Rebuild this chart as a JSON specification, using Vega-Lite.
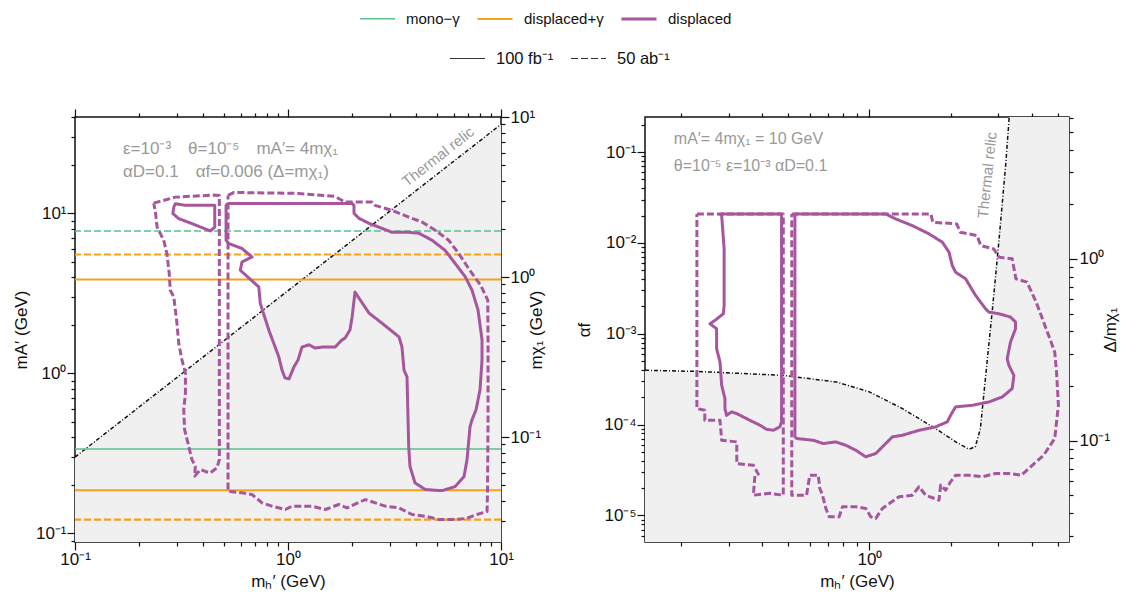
{
"$schema": "https://vega.github.io/schema/vega-lite/v6.json",
"background": "white",
"padding": {"left": 11, "top": 0, "right": 0, "bottom": 0},
"bounds": "flush",
"spacing": 144,
"config": {
 "view": {"stroke": "#111111", "strokeWidth": 1.5},
 "axis": {"labelFont": "Liberation Sans", "labelFontSize": 17, "labelColor": "#111111", "titleFont": "Liberation Sans", "titleFontSize": 17, "titleFontWeight": "normal", "titleColor": "#111111", "domain": false, "grid": false, "ticks": true, "tickColor": "#111111", "tickWidth": 1.2, "labelOverlap": false, "labelFlush": false, "zindex": 1},
 "legend": {"labelFont": "Liberation Sans", "labelFontSize": 15, "labelColor": "#111111", "padding": 0},
 "line": {"strokeJoin": "round"}
},
"datasets": {
 "hlines": [
  {"type": "mono−γ", "lum": "50 ab⁻¹", "y": 7.76},
  {"type": "displaced+γ", "lum": "50 ab⁻¹", "y": 5.53},
  {"type": "displaced+γ", "lum": "100 fb⁻¹", "y": 3.86},
  {"type": "mono−γ", "lum": "100 fb⁻¹", "y": 0.337},
  {"type": "displaced+γ", "lum": "100 fb⁻¹", "y": 0.186},
  {"type": "displaced+γ", "lum": "50 ab⁻¹", "y": 0.122}
 ],
 "relicL": [{"x": 0.1, "y": 0.30}, {"x": 10, "y": 36}],
 "contL": [
  {"c":"D1","lum":"50 ab⁻¹","type":"displaced","i":1,"x":0.234,"y":11.59},
  {"c":"D1","lum":"50 ab⁻¹","type":"displaced","i":2,"x":0.296,"y":12.63},
  {"c":"D1","lum":"50 ab⁻¹","type":"displaced","i":3,"x":0.448,"y":13.0},
  {"c":"D1","lum":"50 ab⁻¹","type":"displaced","i":4,"x":0.476,"y":12.94},
  {"c":"D1","lum":"50 ab⁻¹","type":"displaced","i":5,"x":0.476,"y":0.289},
  {"c":"D1","lum":"50 ab⁻¹","type":"displaced","i":6,"x":0.464,"y":0.257},
  {"c":"D1","lum":"50 ab⁻¹","type":"displaced","i":7,"x":0.432,"y":0.239},
  {"c":"D1","lum":"50 ab⁻¹","type":"displaced","i":8,"x":0.409,"y":0.244},
  {"c":"D1","lum":"50 ab⁻¹","type":"displaced","i":9,"x":0.388,"y":0.251},
  {"c":"D1","lum":"50 ab⁻¹","type":"displaced","i":10,"x":0.365,"y":0.228},
  {"c":"D1","lum":"50 ab⁻¹","type":"displaced","i":11,"x":0.367,"y":0.263},
  {"c":"D1","lum":"50 ab⁻¹","type":"displaced","i":12,"x":0.354,"y":0.289},
  {"c":"D1","lum":"50 ab⁻¹","type":"displaced","i":13,"x":0.342,"y":0.35},
  {"c":"D1","lum":"50 ab⁻¹","type":"displaced","i":14,"x":0.327,"y":0.445},
  {"c":"D1","lum":"50 ab⁻¹","type":"displaced","i":15,"x":0.324,"y":0.592},
  {"c":"D1","lum":"50 ab⁻¹","type":"displaced","i":16,"x":0.33,"y":0.753},
  {"c":"D1","lum":"50 ab⁻¹","type":"displaced","i":17,"x":0.33,"y":1.0},
  {"c":"D1","lum":"50 ab⁻¹","type":"displaced","i":18,"x":0.318,"y":1.21},
  {"c":"D1","lum":"50 ab⁻¹","type":"displaced","i":19,"x":0.307,"y":1.54},
  {"c":"D1","lum":"50 ab⁻¹","type":"displaced","i":20,"x":0.301,"y":2.06},
  {"c":"D1","lum":"50 ab⁻¹","type":"displaced","i":21,"x":0.291,"y":3.01},
  {"c":"D1","lum":"50 ab⁻¹","type":"displaced","i":22,"x":0.28,"y":3.31},
  {"c":"D1","lum":"50 ab⁻¹","type":"displaced","i":23,"x":0.277,"y":4.21},
  {"c":"D1","lum":"50 ab⁻¹","type":"displaced","i":24,"x":0.27,"y":5.61},
  {"c":"D1","lum":"50 ab⁻¹","type":"displaced","i":25,"x":0.261,"y":6.79},
  {"c":"D1","lum":"50 ab⁻¹","type":"displaced","i":26,"x":0.243,"y":8.21},
  {"c":"D1","lum":"50 ab⁻¹","type":"displaced","i":27,"x":0.238,"y":10.44},
  {"c":"D1","lum":"50 ab⁻¹","type":"displaced","i":28,"x":0.234,"y":11.59},
  {"c":"S1","lum":"100 fb⁻¹","type":"displaced","i":1,"x":0.291,"y":10.95},
  {"c":"S1","lum":"100 fb⁻¹","type":"displaced","i":2,"x":0.296,"y":11.49},
  {"c":"S1","lum":"100 fb⁻¹","type":"displaced","i":3,"x":0.33,"y":11.22},
  {"c":"S1","lum":"100 fb⁻¹","type":"displaced","i":4,"x":0.453,"y":11.22},
  {"c":"S1","lum":"100 fb⁻¹","type":"displaced","i":5,"x":0.453,"y":8.21},
  {"c":"S1","lum":"100 fb⁻¹","type":"displaced","i":6,"x":0.432,"y":7.76},
  {"c":"S1","lum":"100 fb⁻¹","type":"displaced","i":7,"x":0.354,"y":8.63},
  {"c":"S1","lum":"100 fb⁻¹","type":"displaced","i":8,"x":0.307,"y":9.27},
  {"c":"S1","lum":"100 fb⁻¹","type":"displaced","i":9,"x":0.288,"y":9.96},
  {"c":"S1","lum":"100 fb⁻¹","type":"displaced","i":10,"x":0.291,"y":10.95},
  {"c":"S2","lum":"100 fb⁻¹","type":"displaced","i":1,"x":0.523,"y":11.54},
  {"c":"S2","lum":"100 fb⁻¹","type":"displaced","i":2,"x":1.997,"y":11.54},
  {"c":"S2","lum":"100 fb⁻¹","type":"displaced","i":3,"x":2.041,"y":11.22},
  {"c":"S2","lum":"100 fb⁻¹","type":"displaced","i":4,"x":2.041,"y":10.0},
  {"c":"S2","lum":"100 fb⁻¹","type":"displaced","i":5,"x":2.154,"y":9.31},
  {"c":"S2","lum":"100 fb⁻¹","type":"displaced","i":6,"x":2.401,"y":8.66},
  {"c":"S2","lum":"100 fb⁻¹","type":"displaced","i":7,"x":2.762,"y":8.06},
  {"c":"S2","lum":"100 fb⁻¹","type":"displaced","i":8,"x":3.078,"y":7.61},
  {"c":"S2","lum":"100 fb⁻¹","type":"displaced","i":9,"x":3.699,"y":7.61},
  {"c":"S2","lum":"100 fb⁻¹","type":"displaced","i":10,"x":4.121,"y":7.51},
  {"c":"S2","lum":"100 fb⁻¹","type":"displaced","i":11,"x":4.745,"y":6.79},
  {"c":"S2","lum":"100 fb⁻¹","type":"displaced","i":12,"x":5.459,"y":5.88},
  {"c":"S2","lum":"100 fb⁻¹","type":"displaced","i":13,"x":6.081,"y":4.88},
  {"c":"S2","lum":"100 fb⁻¹","type":"displaced","i":14,"x":6.8,"y":4.01},
  {"c":"S2","lum":"100 fb⁻¹","type":"displaced","i":15,"x":7.31,"y":3.31},
  {"c":"S2","lum":"100 fb⁻¹","type":"displaced","i":16,"x":7.8,"y":2.49},
  {"c":"S2","lum":"100 fb⁻¹","type":"displaced","i":17,"x":8.145,"y":1.62},
  {"c":"S2","lum":"100 fb⁻¹","type":"displaced","i":18,"x":8.145,"y":1.21},
  {"c":"S2","lum":"100 fb⁻¹","type":"displaced","i":19,"x":7.971,"y":0.789},
  {"c":"S2","lum":"100 fb⁻¹","type":"displaced","i":20,"x":7.633,"y":0.592},
  {"c":"S2","lum":"100 fb⁻¹","type":"displaced","i":21,"x":7.31,"y":0.513},
  {"c":"S2","lum":"100 fb⁻¹","type":"displaced","i":22,"x":7.154,"y":0.464},
  {"c":"S2","lum":"100 fb⁻¹","type":"displaced","i":23,"x":6.926,"y":0.289},
  {"c":"S2","lum":"100 fb⁻¹","type":"displaced","i":24,"x":6.705,"y":0.2265},
  {"c":"S2","lum":"100 fb⁻¹","type":"displaced","i":25,"x":6.081,"y":0.196},
  {"c":"S2","lum":"100 fb⁻¹","type":"displaced","i":26,"x":5.284,"y":0.185},
  {"c":"S2","lum":"100 fb⁻¹","type":"displaced","i":27,"x":4.412,"y":0.188},
  {"c":"S2","lum":"100 fb⁻¹","type":"displaced","i":28,"x":3.947,"y":0.207},
  {"c":"S2","lum":"100 fb⁻¹","type":"displaced","i":29,"x":3.739,"y":0.262},
  {"c":"S2","lum":"100 fb⁻¹","type":"displaced","i":30,"x":3.687,"y":0.35},
  {"c":"S2","lum":"100 fb⁻¹","type":"displaced","i":31,"x":3.62,"y":0.951},
  {"c":"S2","lum":"100 fb⁻¹","type":"displaced","i":32,"x":3.504,"y":1.05},
  {"c":"S2","lum":"100 fb⁻¹","type":"displaced","i":33,"x":3.429,"y":1.46},
  {"c":"S2","lum":"100 fb⁻¹","type":"displaced","i":34,"x":3.32,"y":1.69},
  {"c":"S2","lum":"100 fb⁻¹","type":"displaced","i":35,"x":2.762,"y":2.06},
  {"c":"S2","lum":"100 fb⁻¹","type":"displaced","i":36,"x":2.401,"y":2.38},
  {"c":"S2","lum":"100 fb⁻¹","type":"displaced","i":37,"x":2.063,"y":3.22},
  {"c":"S2","lum":"100 fb⁻¹","type":"displaced","i":38,"x":2.0,"y":2.25},
  {"c":"S2","lum":"100 fb⁻¹","type":"displaced","i":39,"x":1.954,"y":1.87},
  {"c":"S2","lum":"100 fb⁻¹","type":"displaced","i":40,"x":1.852,"y":1.66},
  {"c":"S2","lum":"100 fb⁻¹","type":"displaced","i":41,"x":1.793,"y":1.62},
  {"c":"S2","lum":"100 fb⁻¹","type":"displaced","i":42,"x":1.663,"y":1.46},
  {"c":"S2","lum":"100 fb⁻¹","type":"displaced","i":43,"x":1.444,"y":1.46},
  {"c":"S2","lum":"100 fb⁻¹","type":"displaced","i":44,"x":1.339,"y":1.44},
  {"c":"S2","lum":"100 fb⁻¹","type":"displaced","i":45,"x":1.255,"y":1.51},
  {"c":"S2","lum":"100 fb⁻¹","type":"displaced","i":46,"x":1.163,"y":1.46},
  {"c":"S2","lum":"100 fb⁻¹","type":"displaced","i":47,"x":1.114,"y":1.21},
  {"c":"S2","lum":"100 fb⁻¹","type":"displaced","i":48,"x":1.067,"y":1.1},
  {"c":"S2","lum":"100 fb⁻¹","type":"displaced","i":49,"x":1.011,"y":0.924},
  {"c":"S2","lum":"100 fb⁻¹","type":"displaced","i":50,"x":0.968,"y":0.937},
  {"c":"S2","lum":"100 fb⁻¹","type":"displaced","i":51,"x":0.937,"y":1.05},
  {"c":"S2","lum":"100 fb⁻¹","type":"displaced","i":52,"x":0.905,"y":1.27},
  {"c":"S2","lum":"100 fb⁻¹","type":"displaced","i":53,"x":0.812,"y":1.87},
  {"c":"S2","lum":"100 fb⁻¹","type":"displaced","i":54,"x":0.741,"y":2.74},
  {"c":"S2","lum":"100 fb⁻¹","type":"displaced","i":55,"x":0.729,"y":3.47},
  {"c":"S2","lum":"100 fb⁻¹","type":"displaced","i":56,"x":0.597,"y":4.41},
  {"c":"S2","lum":"100 fb⁻¹","type":"displaced","i":57,"x":0.608,"y":4.97},
  {"c":"S2","lum":"100 fb⁻¹","type":"displaced","i":58,"x":0.678,"y":5.34},
  {"c":"S2","lum":"100 fb⁻¹","type":"displaced","i":59,"x":0.608,"y":6.03},
  {"c":"S2","lum":"100 fb⁻¹","type":"displaced","i":60,"x":0.527,"y":6.48},
  {"c":"S2","lum":"100 fb⁻¹","type":"displaced","i":61,"x":0.512,"y":6.79},
  {"c":"S2","lum":"100 fb⁻¹","type":"displaced","i":62,"x":0.512,"y":11.22},
  {"c":"S2","lum":"100 fb⁻¹","type":"displaced","i":63,"x":0.523,"y":11.54},
  {"c":"D2","lum":"50 ab⁻¹","type":"displaced","i":1,"x":0.523,"y":12.94},
  {"c":"D2","lum":"50 ab⁻¹","type":"displaced","i":2,"x":0.558,"y":13.51},
  {"c":"D2","lum":"50 ab⁻¹","type":"displaced","i":3,"x":1.114,"y":13.32},
  {"c":"D2","lum":"50 ab⁻¹","type":"displaced","i":4,"x":1.663,"y":12.76},
  {"c":"D2","lum":"50 ab⁻¹","type":"displaced","i":5,"x":1.852,"y":11.76},
  {"c":"D2","lum":"50 ab⁻¹","type":"displaced","i":6,"x":2.48,"y":11.76},
  {"c":"D2","lum":"50 ab⁻¹","type":"displaced","i":7,"x":2.562,"y":11.22},
  {"c":"D2","lum":"50 ab⁻¹","type":"displaced","i":8,"x":3.078,"y":10.44},
  {"c":"D2","lum":"50 ab⁻¹","type":"displaced","i":9,"x":3.687,"y":9.48},
  {"c":"D2","lum":"50 ab⁻¹","type":"displaced","i":10,"x":4.257,"y":8.83},
  {"c":"D2","lum":"50 ab⁻¹","type":"displaced","i":11,"x":4.916,"y":7.84},
  {"c":"D2","lum":"50 ab⁻¹","type":"displaced","i":12,"x":5.683,"y":6.79},
  {"c":"D2","lum":"50 ab⁻¹","type":"displaced","i":13,"x":6.33,"y":5.61},
  {"c":"D2","lum":"50 ab⁻¹","type":"displaced","i":14,"x":6.8,"y":4.86},
  {"c":"D2","lum":"50 ab⁻¹","type":"displaced","i":15,"x":7.31,"y":4.21},
  {"c":"D2","lum":"50 ab⁻¹","type":"displaced","i":16,"x":8.023,"y":3.56},
  {"c":"D2","lum":"50 ab⁻¹","type":"displaced","i":17,"x":8.665,"y":2.87},
  {"c":"D2","lum":"50 ab⁻¹","type":"displaced","i":18,"x":8.693,"y":1.62},
  {"c":"D2","lum":"50 ab⁻¹","type":"displaced","i":19,"x":8.693,"y":0.513},
  {"c":"D2","lum":"50 ab⁻¹","type":"displaced","i":20,"x":8.645,"y":0.188},
  {"c":"D2","lum":"50 ab⁻¹","type":"displaced","i":21,"x":8.599,"y":0.1371},
  {"c":"D2","lum":"50 ab⁻¹","type":"displaced","i":22,"x":7.716,"y":0.1313},
  {"c":"D2","lum":"50 ab⁻¹","type":"displaced","i":23,"x":6.8,"y":0.1234},
  {"c":"D2","lum":"50 ab⁻¹","type":"displaced","i":24,"x":5.888,"y":0.1223},
  {"c":"D2","lum":"50 ab⁻¹","type":"displaced","i":25,"x":5.1,"y":0.1223},
  {"c":"D2","lum":"50 ab⁻¹","type":"displaced","i":26,"x":4.412,"y":0.1281},
  {"c":"D2","lum":"50 ab⁻¹","type":"displaced","i":27,"x":3.821,"y":0.1313},
  {"c":"D2","lum":"50 ab⁻¹","type":"displaced","i":28,"x":3.309,"y":0.1446},
  {"c":"D2","lum":"50 ab⁻¹","type":"displaced","i":29,"x":2.863,"y":0.148},
  {"c":"D2","lum":"50 ab⁻¹","type":"displaced","i":30,"x":2.307,"y":0.1628},
  {"c":"D2","lum":"50 ab⁻¹","type":"displaced","i":31,"x":1.892,"y":0.1446},
  {"c":"D2","lum":"50 ab⁻¹","type":"displaced","i":32,"x":1.73,"y":0.1516},
  {"c":"D2","lum":"50 ab⁻¹","type":"displaced","i":33,"x":1.497,"y":0.1411},
  {"c":"D2","lum":"50 ab⁻¹","type":"displaced","i":34,"x":1.296,"y":0.148},
  {"c":"D2","lum":"50 ab⁻¹","type":"displaced","i":35,"x":1.044,"y":0.148},
  {"c":"D2","lum":"50 ab⁻¹","type":"displaced","i":36,"x":0.971,"y":0.1411},
  {"c":"D2","lum":"50 ab⁻¹","type":"displaced","i":37,"x":0.841,"y":0.148},
  {"c":"D2","lum":"50 ab⁻¹","type":"displaced","i":38,"x":0.755,"y":0.1553},
  {"c":"D2","lum":"50 ab⁻¹","type":"displaced","i":39,"x":0.678,"y":0.175},
  {"c":"D2","lum":"50 ab⁻¹","type":"displaced","i":40,"x":0.608,"y":0.1793},
  {"c":"D2","lum":"50 ab⁻¹","type":"displaced","i":41,"x":0.534,"y":0.1827},
  {"c":"D2","lum":"50 ab⁻¹","type":"displaced","i":42,"x":0.523,"y":0.1835},
  {"c":"D2","lum":"50 ab⁻¹","type":"displaced","i":43,"x":0.523,"y":12.94}
 ],
 "relicR": [
  {"x":0.147,"y":3.96e-4},{"x":0.229,"y":3.85e-4},{"x":0.479,"y":3.48e-4},{"x":0.755,"y":2.94e-4},
  {"x":1.0,"y":2.29e-4},{"x":1.325,"y":1.50e-4},{"x":1.76,"y":9.04e-5},{"x":2.09,"y":6.45e-5},
  {"x":2.34,"y":5.36e-5},{"x":2.47,"y":5.69e-5},{"x":2.58,"y":9.04e-5},{"x":2.70,"y":3.48e-4},
  {"x":2.86,"y":1.88e-3},{"x":3.02,"y":1.02e-2},{"x":3.20,"y":0.0706},{"x":3.30,"y":0.243}
 ],
 "relicRfill": [
  {"x":0.147,"y":3.96e-4},{"x":0.229,"y":3.85e-4},{"x":0.479,"y":3.48e-4},{"x":0.755,"y":2.94e-4},
  {"x":1.0,"y":2.29e-4},{"x":1.325,"y":1.50e-4},{"x":1.76,"y":9.04e-5},{"x":2.09,"y":6.45e-5},
  {"x":2.34,"y":5.36e-5},{"x":2.47,"y":5.69e-5},{"x":2.58,"y":9.04e-5},{"x":2.70,"y":3.48e-4},
  {"x":2.86,"y":1.88e-3},{"x":3.02,"y":1.02e-2},{"x":3.20,"y":0.0706},{"x":3.30,"y":0.243},
  {"x":5.5,"y":0.243}
 ],
 "contR": [
  {"c":"D1","lum":"50 ab⁻¹","type":"displaced","i":1,"x":0.229,"y":0.0208},
  {"c":"D1","lum":"50 ab⁻¹","type":"displaced","i":2,"x":0.479,"y":0.0208},
  {"c":"D1","lum":"50 ab⁻¹","type":"displaced","i":3,"x":0.479,"y":1.67e-5},
  {"c":"D1","lum":"50 ab⁻¹","type":"displaced","i":4,"x":0.427,"y":1.75e-5},
  {"c":"D1","lum":"50 ab⁻¹","type":"displaced","i":5,"x":0.371,"y":1.67e-5},
  {"c":"D1","lum":"50 ab⁻¹","type":"displaced","i":6,"x":0.376,"y":2.77e-5},
  {"c":"D1","lum":"50 ab⁻¹","type":"displaced","i":7,"x":0.387,"y":2.85e-5},
  {"c":"D1","lum":"50 ab⁻¹","type":"displaced","i":8,"x":0.371,"y":3.57e-5},
  {"c":"D1","lum":"50 ab⁻¹","type":"displaced","i":9,"x":0.322,"y":3.72e-5},
  {"c":"D1","lum":"50 ab⁻¹","type":"displaced","i":10,"x":0.322,"y":6.45e-5},
  {"c":"D1","lum":"50 ab⁻¹","type":"displaced","i":11,"x":0.283,"y":6.72e-5},
  {"c":"D1","lum":"50 ab⁻¹","type":"displaced","i":12,"x":0.279,"y":1.115e-4},
  {"c":"D1","lum":"50 ab⁻¹","type":"displaced","i":13,"x":0.245,"y":1.115e-4},
  {"c":"D1","lum":"50 ab⁻¹","type":"displaced","i":14,"x":0.245,"y":1.436e-4},
  {"c":"D1","lum":"50 ab⁻¹","type":"displaced","i":15,"x":0.229,"y":1.5e-4},
  {"c":"D1","lum":"50 ab⁻¹","type":"displaced","i":16,"x":0.229,"y":0.0208},
  {"c":"S1","lum":"100 fb⁻¹","type":"displaced","i":1,"x":0.279,"y":0.0208},
  {"c":"S1","lum":"100 fb⁻¹","type":"displaced","i":2,"x":0.472,"y":0.0208},
  {"c":"S1","lum":"100 fb⁻¹","type":"displaced","i":3,"x":0.472,"y":1.071e-4},
  {"c":"S1","lum":"100 fb⁻¹","type":"displaced","i":4,"x":0.465,"y":9.44e-5},
  {"c":"S1","lum":"100 fb⁻¹","type":"displaced","i":5,"x":0.44,"y":8.66e-5},
  {"c":"S1","lum":"100 fb⁻¹","type":"displaced","i":6,"x":0.415,"y":8.88e-5},
  {"c":"S1","lum":"100 fb⁻¹","type":"displaced","i":7,"x":0.393,"y":9.82e-5},
  {"c":"S1","lum":"100 fb⁻¹","type":"displaced","i":8,"x":0.36,"y":1.115e-4},
  {"c":"S1","lum":"100 fb⁻¹","type":"displaced","i":9,"x":0.322,"y":1.321e-4},
  {"c":"S1","lum":"100 fb⁻¹","type":"displaced","i":10,"x":0.308,"y":1.38e-4},
  {"c":"S1","lum":"100 fb⁻¹","type":"displaced","i":11,"x":0.295,"y":1.265e-4},
  {"c":"S1","lum":"100 fb⁻¹","type":"displaced","i":12,"x":0.291,"y":1.5e-4},
  {"c":"S1","lum":"100 fb⁻¹","type":"displaced","i":13,"x":0.291,"y":1.93e-4},
  {"c":"S1","lum":"100 fb⁻¹","type":"displaced","i":14,"x":0.283,"y":2.7e-4},
  {"c":"S1","lum":"100 fb⁻¹","type":"displaced","i":15,"x":0.279,"y":4.89e-4},
  {"c":"S1","lum":"100 fb⁻¹","type":"displaced","i":16,"x":0.271,"y":6.84e-4},
  {"c":"S1","lum":"100 fb⁻¹","type":"displaced","i":17,"x":0.271,"y":1.135e-3},
  {"c":"S1","lum":"100 fb⁻¹","type":"displaced","i":18,"x":0.256,"y":1.288e-3},
  {"c":"S1","lum":"100 fb⁻¹","type":"displaced","i":19,"x":0.267,"y":1.4e-3},
  {"c":"S1","lum":"100 fb⁻¹","type":"displaced","i":20,"x":0.287,"y":1.66e-3},
  {"c":"S1","lum":"100 fb⁻¹","type":"displaced","i":21,"x":0.289,"y":2.05e-3},
  {"c":"S1","lum":"100 fb⁻¹","type":"displaced","i":22,"x":0.289,"y":8.59e-3},
  {"c":"S1","lum":"100 fb⁻¹","type":"displaced","i":23,"x":0.283,"y":0.01995},
  {"c":"S1","lum":"100 fb⁻¹","type":"displaced","i":24,"x":0.279,"y":0.0208},
  {"c":"D2","lum":"50 ab⁻¹","type":"displaced","i":1,"x":0.515,"y":0.0208},
  {"c":"D2","lum":"50 ab⁻¹","type":"displaced","i":2,"x":1.69,"y":0.0208},
  {"c":"D2","lum":"50 ab⁻¹","type":"displaced","i":3,"x":1.718,"y":0.01687},
  {"c":"D2","lum":"50 ab⁻¹","type":"displaced","i":4,"x":2.107,"y":0.01619},
  {"c":"D2","lum":"50 ab⁻¹","type":"displaced","i":5,"x":2.173,"y":0.01312},
  {"c":"D2","lum":"50 ab⁻¹","type":"displaced","i":6,"x":2.507,"y":0.01202},
  {"c":"D2","lum":"50 ab⁻¹","type":"displaced","i":7,"x":2.588,"y":9.34e-3},
  {"c":"D2","lum":"50 ab⁻¹","type":"displaced","i":8,"x":2.891,"y":8.59e-3},
  {"c":"D2","lum":"50 ab⁻¹","type":"displaced","i":9,"x":3.03,"y":6.96e-3},
  {"c":"D2","lum":"50 ab⁻¹","type":"displaced","i":10,"x":3.386,"y":6.67e-3},
  {"c":"D2","lum":"50 ab⁻¹","type":"displaced","i":11,"x":3.494,"y":4.02e-3},
  {"c":"D2","lum":"50 ab⁻¹","type":"displaced","i":12,"x":3.841,"y":3.7e-3},
  {"c":"D2","lum":"50 ab⁻¹","type":"displaced","i":13,"x":4.155,"y":2.23e-3},
  {"c":"D2","lum":"50 ab⁻¹","type":"displaced","i":14,"x":4.429,"y":1.344e-3},
  {"c":"D2","lum":"50 ab⁻¹","type":"displaced","i":15,"x":4.718,"y":8.11e-4},
  {"c":"D2","lum":"50 ab⁻¹","type":"displaced","i":16,"x":4.869,"y":6.29e-4},
  {"c":"D2","lum":"50 ab⁻¹","type":"displaced","i":17,"x":4.944,"y":3.79e-4},
  {"c":"D2","lum":"50 ab⁻¹","type":"displaced","i":18,"x":5.024,"y":1.63e-4},
  {"c":"D2","lum":"50 ab⁻¹","type":"displaced","i":19,"x":4.869,"y":7.02e-5},
  {"c":"D2","lum":"50 ab⁻¹","type":"displaced","i":20,"x":4.429,"y":4.6e-5},
  {"c":"D2","lum":"50 ab⁻¹","type":"displaced","i":21,"x":3.656,"y":2.77e-5},
  {"c":"D2","lum":"50 ab⁻¹","type":"displaced","i":22,"x":3.291,"y":2.895e-5},
  {"c":"D2","lum":"50 ab⁻¹","type":"displaced","i":23,"x":2.936,"y":2.895e-5},
  {"c":"D2","lum":"50 ab⁻¹","type":"displaced","i":24,"x":2.621,"y":2.662e-5},
  {"c":"D2","lum":"50 ab⁻¹","type":"displaced","i":25,"x":2.341,"y":2.77e-5},
  {"c":"D2","lum":"50 ab⁻¹","type":"displaced","i":26,"x":2.087,"y":2.77e-5},
  {"c":"D2","lum":"50 ab⁻¹","type":"displaced","i":27,"x":2.0,"y":2.345e-5},
  {"c":"D2","lum":"50 ab⁻¹","type":"displaced","i":28,"x":1.917,"y":1.897e-5},
  {"c":"D2","lum":"50 ab⁻¹","type":"displaced","i":29,"x":1.837,"y":2.153e-5},
  {"c":"D2","lum":"50 ab⁻¹","type":"displaced","i":30,"x":1.812,"y":1.472e-5},
  {"c":"D2","lum":"50 ab⁻¹","type":"displaced","i":31,"x":1.616,"y":1.671e-5},
  {"c":"D2","lum":"50 ab⁻¹","type":"displaced","i":32,"x":1.528,"y":2.066e-5},
  {"c":"D2","lum":"50 ab⁻¹","type":"displaced","i":33,"x":1.443,"y":1.671e-5},
  {"c":"D2","lum":"50 ab⁻¹","type":"displaced","i":34,"x":1.288,"y":1.604e-5},
  {"c":"D2","lum":"50 ab⁻¹","type":"displaced","i":35,"x":1.117,"y":1.194e-5},
  {"c":"D2","lum":"50 ab⁻¹","type":"displaced","i":36,"x":1.055,"y":9.27e-6},
  {"c":"D2","lum":"50 ab⁻¹","type":"displaced","i":37,"x":1.011,"y":9.68e-6},
  {"c":"D2","lum":"50 ab⁻¹","type":"displaced","i":38,"x":0.969,"y":1.194e-5},
  {"c":"D2","lum":"50 ab⁻¹","type":"displaced","i":39,"x":0.89,"y":1.247e-5},
  {"c":"D2","lum":"50 ab⁻¹","type":"displaced","i":40,"x":0.794,"y":1.247e-5},
  {"c":"D2","lum":"50 ab⁻¹","type":"displaced","i":41,"x":0.772,"y":9.68e-6},
  {"c":"D2","lum":"50 ab⁻¹","type":"displaced","i":42,"x":0.709,"y":9.68e-6},
  {"c":"D2","lum":"50 ab⁻¹","type":"displaced","i":43,"x":0.689,"y":1.194e-5},
  {"c":"D2","lum":"50 ab⁻¹","type":"displaced","i":44,"x":0.67,"y":1.671e-5},
  {"c":"D2","lum":"50 ab⁻¹","type":"displaced","i":45,"x":0.6545,"y":1.98e-5},
  {"c":"D2","lum":"50 ab⁻¹","type":"displaced","i":46,"x":0.6457,"y":2.77e-5},
  {"c":"D2","lum":"50 ab⁻¹","type":"displaced","i":47,"x":0.6009,"y":2.77e-5},
  {"c":"D2","lum":"50 ab⁻¹","type":"displaced","i":48,"x":0.5843,"y":1.671e-5},
  {"c":"D2","lum":"50 ab⁻¹","type":"displaced","i":49,"x":0.515,"y":1.671e-5},
  {"c":"D2","lum":"50 ab⁻¹","type":"displaced","i":50,"x":0.515,"y":0.0208},
  {"c":"S2","lum":"100 fb⁻¹","type":"displaced","i":1,"x":0.529,"y":0.0208},
  {"c":"S2","lum":"100 fb⁻¹","type":"displaced","i":2,"x":1.149,"y":0.0208},
  {"c":"S2","lum":"100 fb⁻¹","type":"displaced","i":3,"x":1.251,"y":0.01836},
  {"c":"S2","lum":"100 fb⁻¹","type":"displaced","i":4,"x":1.443,"y":0.01549},
  {"c":"S2","lum":"100 fb⁻¹","type":"displaced","i":5,"x":1.664,"y":0.01256},
  {"c":"S2","lum":"100 fb⁻¹","type":"displaced","i":6,"x":1.864,"y":0.01018},
  {"c":"S2","lum":"100 fb⁻¹","type":"displaced","i":7,"x":1.973,"y":7.9e-3},
  {"c":"S2","lum":"100 fb⁻¹","type":"displaced","i":8,"x":2.029,"y":5.63e-3},
  {"c":"S2","lum":"100 fb⁻¹","type":"displaced","i":9,"x":2.087,"y":4.76e-3},
  {"c":"S2","lum":"100 fb⁻¹","type":"displaced","i":10,"x":2.274,"y":4.02e-3},
  {"c":"S2","lum":"100 fb⁻¹","type":"displaced","i":11,"x":2.476,"y":2.64e-3},
  {"c":"S2","lum":"100 fb⁻¹","type":"displaced","i":12,"x":2.696,"y":1.884e-3},
  {"c":"S2","lum":"100 fb⁻¹","type":"displaced","i":13,"x":2.776,"y":1.731e-3},
  {"c":"S2","lum":"100 fb⁻¹","type":"displaced","i":14,"x":3.022,"y":1.66e-3},
  {"c":"S2","lum":"100 fb⁻¹","type":"displaced","i":15,"x":3.337,"y":1.526e-3},
  {"c":"S2","lum":"100 fb⁻¹","type":"displaced","i":16,"x":3.483,"y":1.344e-3},
  {"c":"S2","lum":"100 fb⁻¹","type":"displaced","i":17,"x":3.483,"y":1.135e-3},
  {"c":"S2","lum":"100 fb⁻¹","type":"displaced","i":18,"x":3.337,"y":8.11e-4},
  {"c":"S2","lum":"100 fb⁻¹","type":"displaced","i":19,"x":3.244,"y":5.31e-4},
  {"c":"S2","lum":"100 fb⁻¹","type":"displaced","i":20,"x":3.291,"y":4.49e-4},
  {"c":"S2","lum":"100 fb⁻¹","type":"displaced","i":21,"x":3.435,"y":3.48e-4},
  {"c":"S2","lum":"100 fb⁻¹","type":"displaced","i":22,"x":3.386,"y":2.49e-4},
  {"c":"S2","lum":"100 fb⁻¹","type":"displaced","i":23,"x":3.109,"y":2.014e-4},
  {"c":"S2","lum":"100 fb⁻¹","type":"displaced","i":24,"x":2.776,"y":1.775e-4},
  {"c":"S2","lum":"100 fb⁻¹","type":"displaced","i":25,"x":2.407,"y":1.63e-4},
  {"c":"S2","lum":"100 fb⁻¹","type":"displaced","i":26,"x":2.087,"y":1.566e-4},
  {"c":"S2","lum":"100 fb⁻¹","type":"displaced","i":27,"x":2.0,"y":1.265e-4},
  {"c":"S2","lum":"100 fb⁻¹","type":"displaced","i":28,"x":1.945,"y":1.071e-4},
  {"c":"S2","lum":"100 fb⁻¹","type":"displaced","i":29,"x":1.76,"y":9.44e-5},
  {"c":"S2","lum":"100 fb⁻¹","type":"displaced","i":30,"x":1.528,"y":8.66e-5},
  {"c":"S2","lum":"100 fb⁻¹","type":"displaced","i":31,"x":1.325,"y":7.63e-5},
  {"c":"S2","lum":"100 fb⁻¹","type":"displaced","i":32,"x":1.217,"y":7.33e-5},
  {"c":"S2","lum":"100 fb⁻¹","type":"displaced","i":33,"x":1.149,"y":6.18e-5},
  {"c":"S2","lum":"100 fb⁻¹","type":"displaced","i":34,"x":1.055,"y":4.8e-5},
  {"c":"S2","lum":"100 fb⁻¹","type":"displaced","i":35,"x":0.969,"y":4.42e-5},
  {"c":"S2","lum":"100 fb⁻¹","type":"displaced","i":36,"x":0.89,"y":5.22e-5},
  {"c":"S2","lum":"100 fb⁻¹","type":"displaced","i":37,"x":0.817,"y":5.92e-5},
  {"c":"S2","lum":"100 fb⁻¹","type":"displaced","i":38,"x":0.75,"y":6.45e-5},
  {"c":"S2","lum":"100 fb⁻¹","type":"displaced","i":39,"x":0.674,"y":6.18e-5},
  {"c":"S2","lum":"100 fb⁻¹","type":"displaced","i":40,"x":0.619,"y":6.72e-5},
  {"c":"S2","lum":"100 fb⁻¹","type":"displaced","i":41,"x":0.537,"y":7.02e-5},
  {"c":"S2","lum":"100 fb⁻¹","type":"displaced","i":42,"x":0.529,"y":7.33e-5},
  {"c":"S2","lum":"100 fb⁻¹","type":"displaced","i":43,"x":0.529,"y":0.0208}
 ]
},
"hconcat": [
 {
  "width": 426, "height": 425,
  "layer": [
   {
    "layer": [
     {"data": {"name": "relicL"}, "mark": {"type": "area", "fill": "#f0f0f0", "clip": true},
      "encoding": {
       "x": {"field": "x", "type": "quantitative", "scale": {"type": "log", "domain": [0.1, 10], "nice": false},
        "axis": {"orient": "bottom", "values": [0.1,0.2,0.3,0.4,0.5,0.6,0.7,0.8,0.9,1,2,3,4,5,6,7,8,9,10],
         "labelExpr": "abs(log(datum.value)/LN10-round(log(datum.value)/LN10))<0.001 ? '10'+['⁻⁵','⁻⁴','⁻³','⁻²','⁻¹','⁰','¹'][round(log(datum.value)/LN10)+5] : ''",
         "tickSize": {"condition": {"test": "abs(log(datum.value)/LN10-round(log(datum.value)/LN10))<0.001", "value": 8}, "value": 4},
         "labelPadding": 1, "title": "mₕ′ (GeV)", "titlePadding": 6}},
       "y": {"field": "y", "type": "quantitative", "scale": {"type": "log", "domain": [0.0884, 40], "nice": false},
        "axis": {"orient": "left", "values": [0.09,0.1,0.2,0.3,0.4,0.5,0.6,0.7,0.8,0.9,1,2,3,4,5,6,7,8,9,10,20,30,40],
         "labelExpr": "abs(log(datum.value)/LN10-round(log(datum.value)/LN10))<0.001 ? '10'+['⁻⁵','⁻⁴','⁻³','⁻²','⁻¹','⁰','¹'][round(log(datum.value)/LN10)+5] : ''",
         "tickSize": {"condition": {"test": "abs(log(datum.value)/LN10-round(log(datum.value)/LN10))<0.001", "value": 8}, "value": 4},
         "labelPadding": 1, "title": "mA′ (GeV)", "titlePadding": 5}},
       "y2": {"datum": 0.0884}
      }},
     {"data": {"name": "relicL"}, "mark": {"type": "line", "stroke": "#111111", "strokeWidth": 1.5, "strokeDash": [4, 2, 1, 2], "clip": true},
      "encoding": {"x": {"field": "x", "type": "quantitative"}, "y": {"field": "y", "type": "quantitative"}}},
     {"data": {"name": "hlines"}, "mark": {"type": "rule"},
      "encoding": {
       "y": {"field": "y", "type": "quantitative"},
       "color": {"field": "type", "type": "nominal", "scale": {"domain": ["mono−γ", "displaced+γ", "displaced"], "range": ["#5cc08e", "#f7a11a", "#a6569d"]},
        "legend": {"orient": "none", "legendX": 284, "legendY": -117, "direction": "horizontal", "title": null, "symbolType": "stroke", "symbolSize": 1225, "columnPadding": 16, "labelOffset": 10}},
       "strokeWidth": {"field": "type", "type": "nominal", "scale": {"domain": ["mono−γ", "displaced+γ", "displaced"], "range": [1.3, 3, 2.5]},
        "legend": {"orient": "none", "legendX": 284, "legendY": -117, "direction": "horizontal", "title": null, "symbolType": "stroke", "symbolSize": 1225, "columnPadding": 16, "labelOffset": 10}},
       "strokeDash": {"field": "lum", "type": "nominal", "scale": {"domain": ["100 fb⁻¹", "50 ab⁻¹"], "range": [[1, 0], [7, 3]]},
        "legend": {"orient": "none", "legendX": 374, "legendY": -77, "direction": "horizontal", "title": null, "symbolType": "stroke", "symbolSize": 1225, "symbolStrokeColor": "#333333", "symbolStrokeWidth": 1.2, "columnPadding": 16, "labelOffset": 10, "labelFontSize": 16.5}}
      }},
     {"data": {"name": "contL"}, "mark": {"type": "line", "clip": true},
      "encoding": {
       "x": {"field": "x", "type": "quantitative"},
       "y": {"field": "y", "type": "quantitative"},
       "detail": {"field": "c"},
       "order": {"field": "i", "type": "quantitative"},
       "color": {"field": "type", "type": "nominal", "scale": {"domain": ["mono−γ", "displaced+γ", "displaced"], "range": ["#5cc08e", "#f7a11a", "#a6569d"]}},
       "strokeWidth": {"field": "type", "type": "nominal", "scale": {"domain": ["mono−γ", "displaced+γ", "displaced"], "range": [1.3, 3, 2.5]}},
       "strokeDash": {"field": "lum", "type": "nominal", "scale": {"domain": ["100 fb⁻¹", "50 ab⁻¹"], "range": [[1, 0], [7, 3]]}}
      }},
     {"data": {"values": [{"x": 0.168, "y": 25.4, "t": "ε=10⁻³\u2003θ=10⁻⁵\u2003mA′= 4mχ₁"}, {"x": 0.168, "y": 18.0, "t": "αD=0.1\u2003αf=0.006 (Δ=mχ₁)"}]},
      "mark": {"type": "text", "align": "left", "baseline": "middle", "font": "Liberation Sans", "fontSize": 17, "color": "#999999"},
      "encoding": {"x": {"field": "x", "type": "quantitative"}, "y": {"field": "y", "type": "quantitative"}, "text": {"field": "t"}}},
     {"data": {"values": [{"x": 5.06, "y": 22.6, "t": "Thermal relic"}]},
      "mark": {"type": "text", "align": "center", "baseline": "middle", "angle": 322, "font": "Liberation Sans", "fontSize": 15, "color": "#999999"},
      "encoding": {"x": {"field": "x", "type": "quantitative"}, "y": {"field": "y", "type": "quantitative"}, "text": {"field": "t"}}}
    ]
   },
   {
    "data": {"values": [{"xv": 0.1, "yv": 0.0221}, {"xv": 10, "yv": 10}]},
    "mark": {"type": "point", "opacity": 0},
    "encoding": {
     "x": {"field": "xv", "type": "quantitative", "scale": {"type": "log", "domain": [0.1, 10], "nice": false},
      "axis": {"orient": "top", "values": [0.1,0.2,0.3,0.4,0.5,0.6,0.7,0.8,0.9,1,2,3,4,5,6,7,8,9,10], "labels": false, "title": null,
       "tickSize": {"condition": {"test": "abs(log(datum.value)/LN10-round(log(datum.value)/LN10))<0.001", "value": 8}, "value": 4}}},
     "y": {"field": "yv", "type": "quantitative", "scale": {"type": "log", "domain": [0.0221, 10], "nice": false},
      "axis": {"orient": "right", "values": [0.03,0.04,0.05,0.06,0.07,0.08,0.09,0.1,0.2,0.3,0.4,0.5,0.6,0.7,0.8,0.9,1,2,3,4,5,6,7,8,9,10],
       "labelExpr": "abs(log(datum.value)/LN10-round(log(datum.value)/LN10))<0.001 ? '10'+['⁻⁵','⁻⁴','⁻³','⁻²','⁻¹','⁰','¹'][round(log(datum.value)/LN10)+5] : ''",
       "tickSize": {"condition": {"test": "abs(log(datum.value)/LN10-round(log(datum.value)/LN10))<0.001", "value": 8}, "value": 4},
       "labelPadding": 1, "title": "mχ₁ (GeV)", "titleAngle": 270, "titlePadding": 5}}
    }
   }
  ],
  "resolve": {"scale": {"x": "independent", "y": "independent"}}
 },
 {
  "width": 424, "height": 425,
  "layer": [
   {
    "layer": [
     {"data": {"name": "relicRfill"}, "mark": {"type": "area", "fill": "#f0f0f0", "clip": true},
      "encoding": {
       "x": {"field": "x", "type": "quantitative", "scale": {"type": "log", "domain": [0.147, 5.5], "nice": false},
        "axis": {"orient": "bottom", "values": [0.2,0.3,0.4,0.5,0.6,0.7,0.8,0.9,1,2,3,4,5],
         "labelExpr": "abs(log(datum.value)/LN10-round(log(datum.value)/LN10))<0.001 ? '10'+['⁻⁵','⁻⁴','⁻³','⁻²','⁻¹','⁰','¹'][round(log(datum.value)/LN10)+5] : ''",
         "tickSize": {"condition": {"test": "abs(log(datum.value)/LN10-round(log(datum.value)/LN10))<0.001", "value": 8}, "value": 4},
         "labelPadding": 1, "title": "mₕ′ (GeV)", "titlePadding": 6}},
       "y": {"field": "y", "type": "quantitative", "scale": {"type": "log", "domain": [5.1e-6, 0.243], "nice": false},
        "axis": {"orient": "left", "values": [6e-6,7e-6,8e-6,9e-6,1e-5,2e-5,3e-5,4e-5,5e-5,6e-5,7e-5,8e-5,9e-5,1e-4,2e-4,3e-4,4e-4,5e-4,6e-4,7e-4,8e-4,9e-4,0.001,0.002,0.003,0.004,0.005,0.006,0.007,0.008,0.009,0.01,0.02,0.03,0.04,0.05,0.06,0.07,0.08,0.09,0.1,0.2],
         "labelExpr": "abs(log(datum.value)/LN10-round(log(datum.value)/LN10))<0.001 ? '10'+['⁻⁵','⁻⁴','⁻³','⁻²','⁻¹','⁰','¹'][round(log(datum.value)/LN10)+5] : ''",
         "tickSize": {"condition": {"test": "abs(log(datum.value)/LN10-round(log(datum.value)/LN10))<0.001", "value": 8}, "value": 4},
         "labelPadding": 1, "title": "αf", "titlePadding": 10}},
       "y2": {"datum": 5.1e-6}
      }},
     {"data": {"name": "relicR"}, "mark": {"type": "line", "stroke": "#111111", "strokeWidth": 1.5, "strokeDash": [4, 2, 1, 2], "clip": true},
      "encoding": {"x": {"field": "x", "type": "quantitative"}, "y": {"field": "y", "type": "quantitative"}}},
     {"data": {"name": "contR"}, "mark": {"type": "line", "clip": true},
      "encoding": {
       "x": {"field": "x", "type": "quantitative"},
       "y": {"field": "y", "type": "quantitative"},
       "detail": {"field": "c"},
       "order": {"field": "i", "type": "quantitative"},
       "color": {"field": "type", "type": "nominal", "scale": {"domain": ["mono−γ", "displaced+γ", "displaced"], "range": ["#5cc08e", "#f7a11a", "#a6569d"]}},
       "strokeWidth": {"field": "type", "type": "nominal", "scale": {"domain": ["mono−γ", "displaced+γ", "displaced"], "range": [1.3, 3, 2.5]}},
       "strokeDash": {"field": "lum", "type": "nominal", "scale": {"domain": ["100 fb⁻¹", "50 ab⁻¹"], "range": [[1, 0], [7, 3]]}}
      }},
     {"data": {"values": [{"x": 0.188, "y": 0.139, "t": "mA′= 4mχ₁ = 10 GeV"}, {"x": 0.188, "y": 0.0702, "t": "θ=10⁻⁵ ε=10⁻³ αD=0.1"}]},
      "mark": {"type": "text", "align": "left", "baseline": "middle", "font": "Liberation Sans", "fontSize": 16, "color": "#999999"},
      "encoding": {"x": {"field": "x", "type": "quantitative"}, "y": {"field": "y", "type": "quantitative"}, "text": {"field": "t"}}},
     {"data": {"values": [{"x": 2.735, "y": 0.0558, "t": "Thermal relic"}]},
      "mark": {"type": "text", "align": "center", "baseline": "middle", "angle": 276, "font": "Liberation Sans", "fontSize": 15, "color": "#999999"},
      "encoding": {"x": {"field": "x", "type": "quantitative"}, "y": {"field": "y", "type": "quantitative"}, "text": {"field": "t"}}}
    ]
   },
   {
    "data": {"values": [{"xv": 0.147, "yv": 0.02765}, {"xv": 5.5, "yv": 6.04}]},
    "mark": {"type": "point", "opacity": 0},
    "encoding": {
     "x": {"field": "xv", "type": "quantitative", "scale": {"type": "log", "domain": [0.147, 5.5], "nice": false},
      "axis": {"orient": "top", "values": [0.2,0.3,0.4,0.5,0.6,0.7,0.8,0.9,1,2,3,4,5], "labels": false, "title": null,
       "tickSize": {"condition": {"test": "abs(log(datum.value)/LN10-round(log(datum.value)/LN10))<0.001", "value": 8}, "value": 4}}},
     "y": {"field": "yv", "type": "quantitative", "scale": {"type": "log", "domain": [0.02765, 6.04], "nice": false},
      "axis": {"orient": "right", "values": [0.03,0.04,0.05,0.06,0.07,0.08,0.09,0.1,0.2,0.3,0.4,0.5,0.6,0.7,0.8,0.9,1,2,3,4,5,6],
       "labelExpr": "abs(log(datum.value)/LN10-round(log(datum.value)/LN10))<0.001 ? '10'+['⁻⁵','⁻⁴','⁻³','⁻²','⁻¹','⁰','¹'][round(log(datum.value)/LN10)+5] : ''",
       "tickSize": {"condition": {"test": "abs(log(datum.value)/LN10-round(log(datum.value)/LN10))<0.001", "value": 8}, "value": 4},
       "labelPadding": 2, "title": "Δ/mχ₁", "titleAngle": 270, "titlePadding": 10}}
    }
   }
  ],
  "resolve": {"scale": {"x": "independent", "y": "independent"}}
 }
]
}
